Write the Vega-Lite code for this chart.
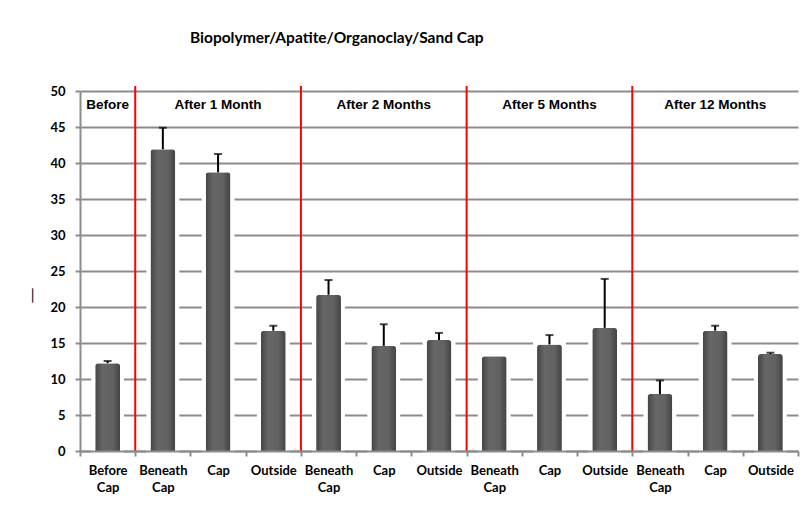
{
  "$schema": "https://vega.github.io/schema/vega-lite/v6.json",
  "width": 718,
  "height": 360,
  "autosize": {"type": "none"},
  "padding": {"left": 80, "top": 91, "right": 3, "bottom": 78},
  "background": "white",
  "config": {"view": {"stroke": null}},
  "title": {
    "text": "Biopolymer/Apatite/Organoclay/Sand Cap",
    "font": "Lato",
    "fontSize": 15.5,
    "fontWeight": "bold",
    "color": "#000000",
    "anchor": "start",
    "frame": "group",
    "dx": 110,
    "offset": 38
  },
  "datasets": {
    "bars": [
      {"cat": "Before Cap#0", "period": "Before", "value": 12.2, "err": 12.5},
      {"cat": "Beneath Cap#1", "period": "After 1 Month", "value": 41.9, "err": 44.9},
      {"cat": "Cap#2", "period": "After 1 Month", "value": 38.7, "err": 41.25},
      {"cat": "Outside#3", "period": "After 1 Month", "value": 16.7, "err": 17.4},
      {"cat": "Beneath Cap#4", "period": "After 2 Months", "value": 21.7, "err": 23.75},
      {"cat": "Cap#5", "period": "After 2 Months", "value": 14.6, "err": 17.6},
      {"cat": "Outside#6", "period": "After 2 Months", "value": 15.4, "err": 16.4},
      {"cat": "Beneath Cap#7", "period": "After 5 Months", "value": 13.15, "err": null},
      {"cat": "Cap#8", "period": "After 5 Months", "value": 14.8, "err": 16.1},
      {"cat": "Outside#9", "period": "After 5 Months", "value": 17.1, "err": 23.9},
      {"cat": "Beneath Cap#10", "period": "After 12 Months", "value": 7.9, "err": 9.8},
      {"cat": "Cap#11", "period": "After 12 Months", "value": 16.7, "err": 17.4},
      {"cat": "Outside#12", "period": "After 12 Months", "value": 13.47, "err": 13.65}
    ],
    "sections": [
      {"cat": "Before Cap#0", "label": "Before"},
      {"cat": "Cap#2", "label": "After 1 Month"},
      {"cat": "Cap#5", "label": "After 2 Months"},
      {"cat": "Cap#8", "label": "After 5 Months"},
      {"cat": "Cap#11", "label": "After 12 Months"}
    ],
    "dividers": [
      {"cat": "Beneath Cap#1"},
      {"cat": "Beneath Cap#4"},
      {"cat": "Beneath Cap#7"},
      {"cat": "Beneath Cap#10"}
    ]
  },
  "encoding": {
    "x": {
      "field": "cat",
      "type": "nominal",
      "sort": null,
      "scale": {"paddingInner": 0, "paddingOuter": 0, "domain": ["Before Cap#0","Beneath Cap#1","Cap#2","Outside#3","Beneath Cap#4","Cap#5","Outside#6","Beneath Cap#7","Cap#8","Outside#9","Beneath Cap#10","Cap#11","Outside#12"]},
      "axis": {
        "title": null,
        "labelAngle": 0,
        "labelExpr": "isValid(datum.value) ? split(split(datum.value, '#')[0], ' ') : ''",
        "labelFont": "Lato",
        "labelFontSize": 13,
        "labelFontWeight": "bold",
        "labelColor": "#000000",
        "labelLineHeight": 17,
        "labelPadding": 8,
        "labelBaseline": "top",
        "tickBand": "extent",
        "tickColor": "#8c8c8c",
        "tickWidth": 2,
        "tickSize": 5,
        "domainColor": "#8c8c8c",
        "domainWidth": 2,
        "grid": false,
        "zindex": 1
      }
    }
  },
  "layer": [
    {
      "data": {"name": "bars"},
      "mark": {"type": "bar", "width": {"band": 0.45}, "fill": "white", "stroke": "white", "strokeWidth": 8},
      "encoding": {
        "y": {
          "field": "value",
          "type": "quantitative",
          "scale": {"domain": [0, 50], "nice": false},
          "axis": {
            "tickCount": 11,
            "title": "—",
            "titleX": -41,
            "titleY": 204,
            "titleFont": "DejaVu Sans",
            "titleFontSize": 16,
            "titleFontWeight": "normal",
            "titleColor": "#222222",
            "labelFont": "Lato",
            "labelFontSize": 13,
            "labelFontWeight": "bold",
            "labelColor": "#000000",
            "labelPadding": 10,
            "labelOverlap": false,
            "tickSize": 5,
            "tickColor": "#8c8c8c",
            "tickWidth": 2,
            "domainColor": "#8c8c8c",
            "domainWidth": 2,
            "gridColor": "#8c8c8c",
            "gridWidth": 2.2,
            "gridOpacity": 1
          }
        }
      }
    },
    {
      "data": {"name": "bars"},
      "mark": {
        "type": "bar",
        "width": {"band": 0.45},
        "cornerRadiusTopLeft": 3,
        "cornerRadiusTopRight": 3,
        "fill": {
          "gradient": "linear", "x1": 0, "y1": 0, "x2": 1, "y2": 0,
          "stops": [
            {"offset": 0, "color": "#454545"},
            {"offset": 0.3, "color": "#666666"},
            {"offset": 0.7, "color": "#626262"},
            {"offset": 1, "color": "#434343"}
          ]
        }
      },
      "encoding": {"y": {"field": "value", "type": "quantitative"}}
    },
    {
      "data": {"name": "bars"},
      "transform": [{"filter": "datum.err != null"}],
      "mark": {"type": "rule", "color": "#000000", "strokeWidth": 2},
      "encoding": {
        "y": {"field": "value", "type": "quantitative"},
        "y2": {"field": "err"}
      }
    },
    {
      "data": {"name": "bars"},
      "transform": [{"filter": "datum.err != null"}],
      "mark": {"type": "tick", "color": "#000000", "thickness": 2, "size": 8},
      "encoding": {"y": {"field": "err", "type": "quantitative"}}
    },
    {
      "data": {"name": "dividers"},
      "mark": {"type": "rule", "color": "#ff0000", "strokeWidth": 2},
      "encoding": {
        "x": {"field": "cat", "type": "nominal", "sort": null, "bandPosition": 0},
        "y": {"datum": 0},
        "y2": {"datum": 50.7}
      }
    },
    {
      "data": {"name": "sections"},
      "mark": {"type": "text", "font": "Liberation Sans", "fontSize": 13.5, "fontWeight": "bold", "color": "#000000", "baseline": "middle", "align": "center"},
      "encoding": {
        "y": {"datum": 48.1},
        "text": {"field": "label"}
      }
    }
  ]
}
